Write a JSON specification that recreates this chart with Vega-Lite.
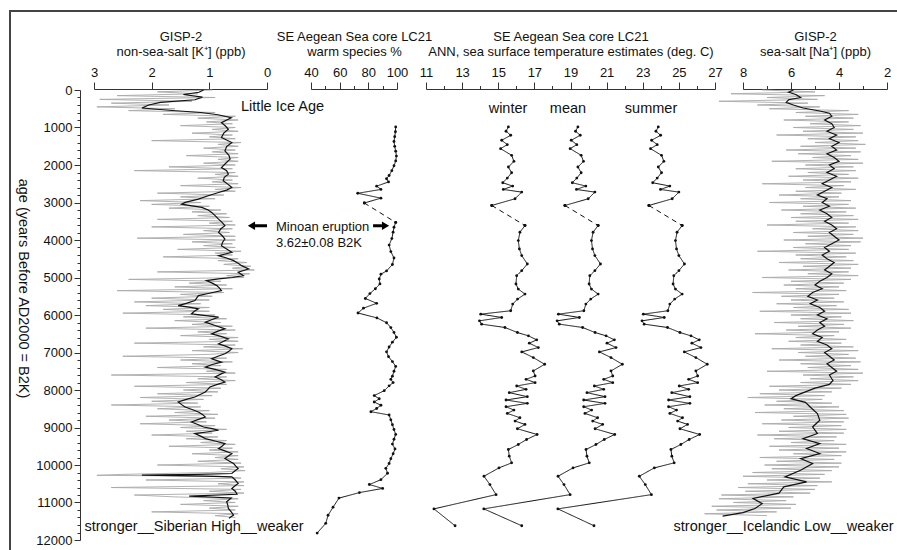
{
"$schema": "https://vega.github.io/schema/vega-lite/v6.json",
"width": 887, "height": 539,
"autosize": "none",
"padding": {"left": 10, "top": 11, "right": 0, "bottom": 0},
"config": {
 "view": {"stroke": "#444", "strokeWidth": 2, "strokeDash": [887, 1426, 539]},
 "font": "Liberation Sans",
 "axis": {"labelFont": "Liberation Sans", "titleFont": "Liberation Sans", "labelFontSize": 13, "titleFontSize": 13, "titleFontWeight": "normal", "labelColor": "#111", "titleColor": "#111", "domainColor": "#333", "tickColor": "#333", "grid": false, "labelFlush": false, "labelOverlap": false, "labelBound": false},
 "text": {"font": "Liberation Sans", "color": "#111"}
},
"datasets": {
 "kraw": [{"a":0,"v":0.95},{"a":50,"v":1.9},{"a":100,"v":1.2},{"a":150,"v":2.6},{"a":200,"v":0.9},{"a":250,"v":2.9},{"a":300,"v":1.3},{"a":350,"v":2.7},{"a":400,"v":1.7},{"a":450,"v":2.95},{"a":500,"v":1.6},{"a":550,"v":2.4},{"a":600,"v":0.9},{"a":650,"v":1.8},{"a":700,"v":0.55},{"a":750,"v":1.2},{"a":800,"v":0.5},{"a":850,"v":1.05},{"a":900,"v":0.6},{"a":950,"v":1.5},{"a":1000,"v":0.55},{"a":1050,"v":0.95},{"a":1100,"v":0.5},{"a":1150,"v":1.3},{"a":1200,"v":0.6},{"a":1250,"v":1.0},{"a":1300,"v":0.55},{"a":1350,"v":2.0},{"a":1400,"v":0.45},{"a":1450,"v":0.85},{"a":1500,"v":0.5},{"a":1550,"v":1.1},{"a":1600,"v":0.55},{"a":1650,"v":0.95},{"a":1700,"v":0.5},{"a":1750,"v":1.4},{"a":1800,"v":0.5},{"a":1850,"v":0.85},{"a":1900,"v":0.5},{"a":1950,"v":1.1},{"a":2000,"v":0.55},{"a":2050,"v":1.7},{"a":2100,"v":0.6},{"a":2150,"v":2.3},{"a":2200,"v":0.55},{"a":2250,"v":0.9},{"a":2300,"v":0.5},{"a":2350,"v":1.2},{"a":2400,"v":0.6},{"a":2450,"v":0.95},{"a":2500,"v":0.5},{"a":2550,"v":1.5},{"a":2600,"v":0.45},{"a":2650,"v":0.9},{"a":2700,"v":0.55},{"a":2750,"v":1.9},{"a":2800,"v":0.75},{"a":2850,"v":1.5},{"a":2900,"v":0.9},{"a":2950,"v":2.2},{"a":3000,"v":1.15},{"a":3050,"v":2.0},{"a":3100,"v":1.0},{"a":3150,"v":1.7},{"a":3200,"v":0.8},{"a":3250,"v":1.3},{"a":3300,"v":0.7},{"a":3350,"v":1.2},{"a":3400,"v":0.65},{"a":3450,"v":1.9},{"a":3500,"v":0.6},{"a":3550,"v":1.0},{"a":3600,"v":0.55},{"a":3650,"v":2.0},{"a":3700,"v":0.6},{"a":3750,"v":1.1},{"a":3800,"v":0.65},{"a":3850,"v":1.45},{"a":3900,"v":0.55},{"a":3950,"v":2.25},{"a":4000,"v":0.55},{"a":4050,"v":1.3},{"a":4100,"v":0.6},{"a":4150,"v":1.1},{"a":4200,"v":0.55},{"a":4250,"v":1.55},{"a":4300,"v":0.45},{"a":4350,"v":0.9},{"a":4400,"v":0.6},{"a":4450,"v":1.8},{"a":4500,"v":0.5},{"a":4550,"v":0.85},{"a":4600,"v":0.35},{"a":4650,"v":0.75},{"a":4700,"v":0.28},{"a":4750,"v":0.6},{"a":4800,"v":0.22},{"a":4850,"v":1.9},{"a":4900,"v":0.3},{"a":4950,"v":0.7},{"a":5000,"v":0.4},{"a":5050,"v":2.4},{"a":5100,"v":0.8},{"a":5150,"v":1.35},{"a":5200,"v":0.7},{"a":5250,"v":1.6},{"a":5300,"v":0.6},{"a":5350,"v":2.6},{"a":5400,"v":0.75},{"a":5450,"v":1.5},{"a":5500,"v":0.95},{"a":5550,"v":2.0},{"a":5600,"v":1.0},{"a":5650,"v":2.3},{"a":5700,"v":1.15},{"a":5750,"v":2.1},{"a":5800,"v":1.0},{"a":5850,"v":1.8},{"a":5900,"v":1.0},{"a":5950,"v":2.5},{"a":6000,"v":0.9},{"a":6050,"v":1.45},{"a":6100,"v":0.7},{"a":6150,"v":1.6},{"a":6200,"v":0.8},{"a":6250,"v":1.3},{"a":6300,"v":0.6},{"a":6350,"v":2.1},{"a":6400,"v":0.55},{"a":6450,"v":1.2},{"a":6500,"v":0.7},{"a":6550,"v":1.5},{"a":6600,"v":0.5},{"a":6650,"v":1.0},{"a":6700,"v":0.5},{"a":6750,"v":2.3},{"a":6800,"v":0.55},{"a":6850,"v":1.1},{"a":6900,"v":0.42},{"a":6950,"v":1.3},{"a":7000,"v":0.5},{"a":7050,"v":1.0},{"a":7100,"v":2.5},{"a":7150,"v":0.7},{"a":7200,"v":1.5},{"a":7250,"v":0.6},{"a":7300,"v":1.3},{"a":7350,"v":0.8},{"a":7400,"v":1.9},{"a":7450,"v":0.7},{"a":7500,"v":1.05},{"a":7550,"v":0.55},{"a":7600,"v":2.7},{"a":7650,"v":0.7},{"a":7700,"v":1.2},{"a":7750,"v":0.55},{"a":7800,"v":1.4},{"a":7850,"v":0.7},{"a":7900,"v":2.3},{"a":7950,"v":0.8},{"a":8000,"v":1.45},{"a":8050,"v":0.85},{"a":8100,"v":1.9},{"a":8150,"v":0.95},{"a":8200,"v":2.2},{"a":8250,"v":1.1},{"a":8300,"v":2.0},{"a":8350,"v":1.2},{"a":8400,"v":2.7},{"a":8450,"v":1.15},{"a":8500,"v":1.9},{"a":8550,"v":1.0},{"a":8600,"v":1.6},{"a":8650,"v":0.85},{"a":8700,"v":2.1},{"a":8750,"v":0.9},{"a":8800,"v":1.7},{"a":8850,"v":1.05},{"a":8900,"v":2.2},{"a":8950,"v":0.9},{"a":9000,"v":1.5},{"a":9050,"v":0.7},{"a":9100,"v":1.4},{"a":9150,"v":0.95},{"a":9200,"v":2.0},{"a":9250,"v":0.85},{"a":9300,"v":1.4},{"a":9350,"v":0.7},{"a":9400,"v":1.15},{"a":9450,"v":0.55},{"a":9500,"v":1.7},{"a":9550,"v":0.6},{"a":9600,"v":1.0},{"a":9650,"v":0.5},{"a":9700,"v":1.3},{"a":9750,"v":0.5},{"a":9800,"v":0.9},{"a":9850,"v":0.5},{"a":9900,"v":1.2},{"a":9950,"v":0.45},{"a":10000,"v":1.9},{"a":10050,"v":0.4},{"a":10100,"v":0.8},{"a":10150,"v":0.38},{"a":10200,"v":1.0},{"a":10250,"v":2.5},{"a":10275,"v":2.95},{"a":10300,"v":0.85},{"a":10350,"v":0.45},{"a":10400,"v":2.1},{"a":10450,"v":0.4},{"a":10500,"v":0.85},{"a":10550,"v":0.4},{"a":10600,"v":2.7},{"a":10650,"v":0.45},{"a":10700,"v":1.0},{"a":10750,"v":0.4},{"a":10800,"v":2.3},{"a":10850,"v":1.6},{"a":10900,"v":0.5},{"a":10950,"v":1.1},{"a":11000,"v":0.55},{"a":11050,"v":1.5},{"a":11100,"v":0.5},{"a":11150,"v":1.0},{"a":11200,"v":0.55},{"a":11250,"v":2.0},{"a":11300,"v":0.5},{"a":11350,"v":0.9},{"a":11400,"v":0.55}],
 "ksm": [{"a":0,"v":1.1},{"a":60,"v":1.18},{"a":120,"v":1.45},{"a":190,"v":1.12},{"a":260,"v":1.25},{"a":330,"v":1.85},{"a":400,"v":2.05},{"a":480,"v":2.17},{"a":540,"v":1.7},{"a":600,"v":1.15},{"a":660,"v":0.85},{"a":740,"v":0.62},{"a":870,"v":0.79},{"a":960,"v":0.72},{"a":1047,"v":0.67},{"a":1150,"v":0.75},{"a":1268,"v":0.79},{"a":1402,"v":0.61},{"a":1510,"v":0.7},{"a":1623,"v":0.73},{"a":1740,"v":0.66},{"a":1845,"v":0.64},{"a":1960,"v":0.72},{"a":2067,"v":0.79},{"a":2150,"v":0.7},{"a":2244,"v":0.67},{"a":2330,"v":0.74},{"a":2421,"v":0.76},{"a":2510,"v":0.68},{"a":2599,"v":0.61},{"a":2670,"v":0.7},{"a":2732,"v":0.84},{"a":2821,"v":1.02},{"a":2910,"v":1.19},{"a":2998,"v":1.42},{"a":3043,"v":1.48},{"a":3090,"v":1.3},{"a":3131,"v":1.13},{"a":3200,"v":1.02},{"a":3264,"v":0.96},{"a":3350,"v":0.9},{"a":3442,"v":0.84},{"a":3530,"v":0.78},{"a":3619,"v":0.73},{"a":3700,"v":0.8},{"a":3797,"v":0.84},{"a":3880,"v":0.78},{"a":3974,"v":0.73},{"a":4060,"v":0.77},{"a":4152,"v":0.79},{"a":4240,"v":0.7},{"a":4329,"v":0.61},{"a":4418,"v":0.84},{"a":4480,"v":0.7},{"a":4551,"v":0.58},{"a":4620,"v":0.5},{"a":4684,"v":0.44},{"a":4772,"v":0.32},{"a":4861,"v":0.5},{"a":4950,"v":0.41},{"a":5000,"v":0.6},{"a":5038,"v":0.84},{"a":5083,"v":1.05},{"a":5150,"v":0.95},{"a":5216,"v":0.87},{"a":5290,"v":0.82},{"a":5349,"v":0.79},{"a":5420,"v":1.0},{"a":5482,"v":1.19},{"a":5550,"v":1.22},{"a":5615,"v":1.25},{"a":5690,"v":1.4},{"a":5748,"v":1.54},{"a":5790,"v":1.35},{"a":5837,"v":1.19},{"a":5900,"v":1.26},{"a":5970,"v":1.31},{"a":6010,"v":1.1},{"a":6058,"v":0.84},{"a":6120,"v":0.95},{"a":6191,"v":1.07},{"a":6280,"v":0.9},{"a":6369,"v":0.73},{"a":6430,"v":0.85},{"a":6502,"v":0.96},{"a":6570,"v":0.8},{"a":6635,"v":0.67},{"a":6700,"v":0.75},{"a":6768,"v":0.84},{"a":6830,"v":0.72},{"a":6901,"v":0.61},{"a":6970,"v":0.66},{"a":7034,"v":0.73},{"a":7100,"v":0.85},{"a":7167,"v":0.96},{"a":7210,"v":0.88},{"a":7256,"v":0.79},{"a":7320,"v":0.95},{"a":7389,"v":1.07},{"a":7450,"v":0.9},{"a":7522,"v":0.73},{"a":7590,"v":0.82},{"a":7655,"v":0.9},{"a":7720,"v":0.8},{"a":7788,"v":0.73},{"a":7850,"v":0.86},{"a":7921,"v":0.99},{"a":7990,"v":1.03},{"a":8054,"v":1.07},{"a":8120,"v":1.16},{"a":8187,"v":1.25},{"a":8250,"v":1.4},{"a":8320,"v":1.54},{"a":8390,"v":1.48},{"a":8453,"v":1.42},{"a":8520,"v":1.3},{"a":8586,"v":1.19},{"a":8650,"v":1.12},{"a":8719,"v":1.07},{"a":8790,"v":1.2},{"a":8853,"v":1.31},{"a":8920,"v":1.2},{"a":8986,"v":1.1},{"a":9030,"v":0.95},{"a":9074,"v":0.84},{"a":9120,"v":1.05},{"a":9163,"v":1.25},{"a":9230,"v":1.15},{"a":9296,"v":1.07},{"a":9360,"v":0.9},{"a":9429,"v":0.73},{"a":9500,"v":0.78},{"a":9562,"v":0.84},{"a":9630,"v":0.72},{"a":9695,"v":0.61},{"a":9760,"v":0.67},{"a":9828,"v":0.73},{"a":9900,"v":0.65},{"a":9961,"v":0.58},{"a":10030,"v":0.54},{"a":10094,"v":0.5},{"a":10160,"v":0.56},{"a":10227,"v":0.61},{"a":10250,"v":1.2},{"a":10272,"v":2.17},{"a":10295,"v":1.1},{"a":10316,"v":0.61},{"a":10400,"v":0.55},{"a":10493,"v":0.5},{"a":10560,"v":0.56},{"a":10626,"v":0.61},{"a":10700,"v":0.55},{"a":10780,"v":0.52},{"a":10830,"v":1.35},{"a":10880,"v":0.62},{"a":10981,"v":0.7},{"a":11070,"v":0.68},{"a":11159,"v":0.67},{"a":11250,"v":0.62},{"a":11336,"v":0.58},{"a":11420,"v":0.66}],
 "naraw": [{"a":0,"v":7.2},{"a":50,"v":5.0},{"a":100,"v":8.5},{"a":150,"v":4.6},{"a":200,"v":7.0},{"a":250,"v":4.9},{"a":300,"v":9.0},{"a":350,"v":5.3},{"a":400,"v":7.4},{"a":450,"v":4.8},{"a":500,"v":6.9},{"a":550,"v":3.6},{"a":600,"v":5.8},{"a":650,"v":3.2},{"a":700,"v":5.4},{"a":750,"v":3.4},{"a":800,"v":6.3},{"a":850,"v":3.6},{"a":900,"v":5.2},{"a":950,"v":3.1},{"a":1000,"v":5.9},{"a":1050,"v":3.4},{"a":1100,"v":5.5},{"a":1150,"v":3.0},{"a":1200,"v":6.6},{"a":1250,"v":3.3},{"a":1300,"v":5.3},{"a":1350,"v":3.2},{"a":1400,"v":5.0},{"a":1450,"v":2.9},{"a":1500,"v":5.6},{"a":1550,"v":3.3},{"a":1600,"v":6.2},{"a":1650,"v":3.1},{"a":1700,"v":5.7},{"a":1750,"v":3.5},{"a":1800,"v":5.1},{"a":1850,"v":3.2},{"a":1900,"v":6.8},{"a":1950,"v":3.0},{"a":2000,"v":5.4},{"a":2050,"v":3.4},{"a":2100,"v":5.8},{"a":2150,"v":3.3},{"a":2200,"v":5.3},{"a":2250,"v":3.6},{"a":2300,"v":6.1},{"a":2350,"v":3.2},{"a":2400,"v":5.5},{"a":2450,"v":3.5},{"a":2500,"v":7.2},{"a":2550,"v":3.8},{"a":2600,"v":5.4},{"a":2650,"v":3.3},{"a":2700,"v":5.8},{"a":2750,"v":3.9},{"a":2800,"v":6.5},{"a":2850,"v":4.0},{"a":2900,"v":5.6},{"a":2950,"v":3.5},{"a":3000,"v":6.9},{"a":3050,"v":3.6},{"a":3100,"v":5.5},{"a":3150,"v":3.3},{"a":3200,"v":6.4},{"a":3250,"v":3.7},{"a":3300,"v":5.6},{"a":3350,"v":3.4},{"a":3400,"v":6.0},{"a":3450,"v":3.2},{"a":3500,"v":5.8},{"a":3550,"v":3.6},{"a":3600,"v":7.0},{"a":3650,"v":3.3},{"a":3700,"v":5.1},{"a":3750,"v":3.2},{"a":3800,"v":5.9},{"a":3850,"v":3.4},{"a":3900,"v":5.3},{"a":3950,"v":3.0},{"a":4000,"v":6.3},{"a":4050,"v":3.1},{"a":4100,"v":5.4},{"a":4150,"v":3.5},{"a":4200,"v":5.9},{"a":4250,"v":3.6},{"a":4300,"v":7.4},{"a":4350,"v":3.3},{"a":4400,"v":5.8},{"a":4450,"v":3.7},{"a":4500,"v":5.6},{"a":4550,"v":3.4},{"a":4600,"v":6.5},{"a":4650,"v":3.2},{"a":4700,"v":5.5},{"a":4750,"v":3.5},{"a":4800,"v":6.1},{"a":4850,"v":3.6},{"a":4900,"v":5.3},{"a":4950,"v":3.2},{"a":5000,"v":7.2},{"a":5050,"v":3.5},{"a":5100,"v":6.0},{"a":5150,"v":3.8},{"a":5200,"v":6.3},{"a":5250,"v":4.0},{"a":5300,"v":5.8},{"a":5350,"v":3.7},{"a":5400,"v":7.6},{"a":5450,"v":4.0},{"a":5500,"v":6.4},{"a":5550,"v":4.2},{"a":5600,"v":6.0},{"a":5650,"v":3.8},{"a":5700,"v":6.6},{"a":5750,"v":4.1},{"a":5800,"v":5.9},{"a":5850,"v":3.6},{"a":5900,"v":7.3},{"a":5950,"v":3.5},{"a":6000,"v":6.0},{"a":6050,"v":3.9},{"a":6100,"v":5.6},{"a":6150,"v":3.4},{"a":6200,"v":6.7},{"a":6250,"v":3.8},{"a":6300,"v":5.7},{"a":6350,"v":3.5},{"a":6400,"v":6.2},{"a":6450,"v":4.0},{"a":6500,"v":7.5},{"a":6550,"v":4.2},{"a":6600,"v":5.8},{"a":6650,"v":3.7},{"a":6700,"v":6.1},{"a":6750,"v":3.9},{"a":6800,"v":5.6},{"a":6850,"v":3.4},{"a":6900,"v":6.8},{"a":6950,"v":3.2},{"a":7000,"v":5.7},{"a":7050,"v":3.6},{"a":7100,"v":5.4},{"a":7150,"v":3.3},{"a":7200,"v":6.5},{"a":7250,"v":3.1},{"a":7300,"v":5.6},{"a":7350,"v":3.5},{"a":7400,"v":5.3},{"a":7450,"v":3.2},{"a":7500,"v":7.0},{"a":7550,"v":3.0},{"a":7600,"v":5.5},{"a":7650,"v":3.4},{"a":7700,"v":5.2},{"a":7750,"v":3.2},{"a":7800,"v":5.6},{"a":7850,"v":3.5},{"a":7900,"v":6.9},{"a":7950,"v":3.9},{"a":8000,"v":6.5},{"a":8050,"v":4.3},{"a":8100,"v":7.3},{"a":8150,"v":4.6},{"a":8200,"v":7.8},{"a":8250,"v":4.7},{"a":8300,"v":6.6},{"a":8350,"v":4.3},{"a":8400,"v":7.1},{"a":8450,"v":4.0},{"a":8500,"v":6.3},{"a":8550,"v":3.8},{"a":8600,"v":7.5},{"a":8650,"v":3.7},{"a":8700,"v":5.9},{"a":8750,"v":3.6},{"a":8800,"v":6.4},{"a":8850,"v":3.8},{"a":8900,"v":7.2},{"a":8950,"v":3.9},{"a":9000,"v":6.1},{"a":9050,"v":3.7},{"a":9100,"v":6.5},{"a":9150,"v":3.8},{"a":9200,"v":7.4},{"a":9250,"v":4.1},{"a":9300,"v":6.7},{"a":9350,"v":4.2},{"a":9400,"v":6.0},{"a":9450,"v":3.7},{"a":9500,"v":6.9},{"a":9550,"v":4.0},{"a":9600,"v":6.5},{"a":9650,"v":3.7},{"a":9700,"v":5.9},{"a":9750,"v":3.9},{"a":9800,"v":7.3},{"a":9850,"v":4.2},{"a":9900,"v":6.6},{"a":9950,"v":3.9},{"a":10000,"v":7.1},{"a":10050,"v":4.0},{"a":10100,"v":6.8},{"a":10150,"v":4.3},{"a":10200,"v":7.6},{"a":10250,"v":4.6},{"a":10300,"v":8.0},{"a":10350,"v":4.8},{"a":10400,"v":7.0},{"a":10450,"v":4.3},{"a":10500,"v":7.8},{"a":10550,"v":4.9},{"a":10600,"v":8.2},{"a":10650,"v":5.0},{"a":10700,"v":7.9},{"a":10750,"v":5.2},{"a":10800,"v":8.9},{"a":10850,"v":5.9},{"a":10900,"v":9.0},{"a":10950,"v":6.2},{"a":11000,"v":8.4},{"a":11050,"v":5.8},{"a":11100,"v":9.3},{"a":11150,"v":6.0},{"a":11200,"v":9.1},{"a":11250,"v":6.6},{"a":11300,"v":9.6},{"a":11350,"v":7.0}],
 "nasm": [{"a":0,"v":5.9},{"a":60,"v":6.1},{"a":120,"v":5.8},{"a":200,"v":5.6},{"a":260,"v":6.1},{"a":330,"v":6.2},{"a":400,"v":5.9},{"a":480,"v":5.5},{"a":560,"v":4.8},{"a":620,"v":4.4},{"a":700,"v":4.3},{"a":800,"v":4.6},{"a":900,"v":4.3},{"a":1000,"v":4.2},{"a":1100,"v":4.5},{"a":1200,"v":4.1},{"a":1300,"v":4.4},{"a":1400,"v":4.0},{"a":1500,"v":4.3},{"a":1600,"v":4.1},{"a":1700,"v":4.5},{"a":1800,"v":4.2},{"a":1900,"v":4.0},{"a":2000,"v":4.4},{"a":2100,"v":4.2},{"a":2200,"v":4.5},{"a":2300,"v":4.1},{"a":2400,"v":4.4},{"a":2500,"v":4.7},{"a":2600,"v":4.3},{"a":2700,"v":4.6},{"a":2800,"v":4.9},{"a":2900,"v":4.5},{"a":3000,"v":4.7},{"a":3100,"v":4.4},{"a":3200,"v":4.8},{"a":3300,"v":4.5},{"a":3400,"v":4.3},{"a":3500,"v":4.6},{"a":3600,"v":4.3},{"a":3700,"v":4.1},{"a":3800,"v":4.4},{"a":3900,"v":4.2},{"a":4000,"v":4.0},{"a":4100,"v":4.3},{"a":4200,"v":4.6},{"a":4300,"v":4.4},{"a":4400,"v":4.7},{"a":4500,"v":4.5},{"a":4600,"v":4.2},{"a":4700,"v":4.4},{"a":4800,"v":4.6},{"a":4900,"v":4.3},{"a":5000,"v":4.5},{"a":5100,"v":4.8},{"a":5200,"v":5.0},{"a":5300,"v":4.7},{"a":5400,"v":5.1},{"a":5500,"v":5.3},{"a":5600,"v":4.9},{"a":5700,"v":5.2},{"a":5800,"v":4.8},{"a":5900,"v":4.6},{"a":6000,"v":4.9},{"a":6100,"v":4.5},{"a":6200,"v":4.8},{"a":6300,"v":4.6},{"a":6400,"v":4.9},{"a":6500,"v":5.1},{"a":6600,"v":4.7},{"a":6700,"v":4.9},{"a":6800,"v":4.5},{"a":6900,"v":4.3},{"a":7000,"v":4.6},{"a":7100,"v":4.4},{"a":7200,"v":4.2},{"a":7300,"v":4.5},{"a":7400,"v":4.3},{"a":7500,"v":4.1},{"a":7600,"v":4.4},{"a":7700,"v":4.3},{"a":7743,"v":4.25},{"a":7850,"v":4.4},{"a":7950,"v":5.0},{"a":8050,"v":5.4},{"a":8150,"v":5.8},{"a":8231,"v":6.0},{"a":8330,"v":5.4},{"a":8453,"v":5.2},{"a":8630,"v":4.9},{"a":8807,"v":4.8},{"a":8985,"v":5.1},{"a":9162,"v":4.9},{"a":9300,"v":5.5},{"a":9429,"v":4.8},{"a":9560,"v":5.35},{"a":9695,"v":4.8},{"a":9830,"v":5.6},{"a":9961,"v":5.1},{"a":10140,"v":5.6},{"a":10316,"v":6.25},{"a":10450,"v":5.35},{"a":10582,"v":6.3},{"a":10750,"v":6.5},{"a":10893,"v":7.58},{"a":11030,"v":7.2},{"a":11159,"v":7.5},{"a":11270,"v":8.0},{"a":11363,"v":8.85}],
 "warm": [{"a":985,"v":99.1,"g":"1"},{"a":1114,"v":98.9,"g":"1"},{"a":1244,"v":98.4,"g":"1"},{"a":1373,"v":97.9,"g":"1"},{"a":1503,"v":98.4,"g":"1"},{"a":1632,"v":99.1,"g":"1"},{"a":1762,"v":99.6,"g":"1"},{"a":1891,"v":99.1,"g":"1"},{"a":2021,"v":97.9,"g":"1"},{"a":2150,"v":96.4,"g":"1"},{"a":2280,"v":94.5,"g":"1"},{"a":2366,"v":92.7,"g":"1"},{"a":2452,"v":94.1,"g":"1"},{"a":2564,"v":85.8,"g":"1"},{"a":2651,"v":88.8,"g":"1"},{"a":2754,"v":72.6,"g":"1"},{"a":2884,"v":88.8,"g":"1"},{"a":3013,"v":77.2,"g":"1"},{"a":3013,"v":77.2,"g":"x"},{"a":3531,"v":99.1,"g":"x"},{"a":3531,"v":99.1,"g":"2"},{"a":3660,"v":97.9,"g":"2"},{"a":3790,"v":97.3,"g":"2"},{"a":3962,"v":96.4,"g":"2"},{"a":4135,"v":94.5,"g":"2"},{"a":4308,"v":95.7,"g":"2"},{"a":4480,"v":97.9,"g":"2"},{"a":4653,"v":96.8,"g":"2"},{"a":4825,"v":92.7,"g":"2"},{"a":4912,"v":88.8,"g":"2"},{"a":5041,"v":87.6,"g":"2"},{"a":5170,"v":88.1,"g":"2"},{"a":5300,"v":84.9,"g":"2"},{"a":5429,"v":81.1,"g":"2"},{"a":5559,"v":77.9,"g":"2"},{"a":5688,"v":85.8,"g":"2"},{"a":5818,"v":76.6,"g":"2"},{"a":5947,"v":72.8,"g":"2"},{"a":6077,"v":86.0,"g":"2"},{"a":6206,"v":92.7,"g":"2"},{"a":6336,"v":95.7,"g":"2"},{"a":6465,"v":97.9,"g":"2"},{"a":6594,"v":99.6,"g":"2"},{"a":6724,"v":96.8,"g":"2"},{"a":6853,"v":94.5,"g":"2"},{"a":6983,"v":92.7,"g":"2"},{"a":7112,"v":94.1,"g":"2"},{"a":7242,"v":96.8,"g":"2"},{"a":7371,"v":99.1,"g":"2"},{"a":7501,"v":97.9,"g":"2"},{"a":7630,"v":96.8,"g":"2"},{"a":7716,"v":95.7,"g":"2"},{"a":7803,"v":97.3,"g":"2"},{"a":7889,"v":94.5,"g":"2"},{"a":8018,"v":91.1,"g":"2"},{"a":8148,"v":84.1,"g":"2"},{"a":8234,"v":87.6,"g":"2"},{"a":8320,"v":84.1,"g":"2"},{"a":8407,"v":88.8,"g":"2"},{"a":8493,"v":85.8,"g":"2"},{"a":8579,"v":81.8,"g":"2"},{"a":8666,"v":94.5,"g":"2"},{"a":8795,"v":95.7,"g":"2"},{"a":8925,"v":96.8,"g":"2"},{"a":9054,"v":97.9,"g":"2"},{"a":9184,"v":99.1,"g":"2"},{"a":9313,"v":97.9,"g":"2"},{"a":9442,"v":96.8,"g":"2"},{"a":9572,"v":98.6,"g":"2"},{"a":9701,"v":97.3,"g":"2"},{"a":9830,"v":95.7,"g":"2"},{"a":9960,"v":94.5,"g":"2"},{"a":10089,"v":92.2,"g":"2"},{"a":10219,"v":93.4,"g":"2"},{"a":10391,"v":88.8,"g":"2"},{"a":10521,"v":80.7,"g":"2"},{"a":10625,"v":90.0,"g":"2"},{"a":10736,"v":73.8,"g":"2"},{"a":10883,"v":59.5,"g":"2"},{"a":11125,"v":55.4,"g":"2"},{"a":11341,"v":51.9,"g":"2"},{"a":11556,"v":50.3,"g":"2"},{"a":11815,"v":44.3,"g":"2"}],
 "sst": [{"a":985,"w":15.56,"m":19.41,"s":23.86,"g":"1"},{"a":1101,"w":15.43,"m":19.28,"s":23.73,"g":"1"},{"a":1207,"w":15.69,"m":19.54,"s":23.99,"g":"1"},{"a":1341,"w":15.19,"m":19.04,"s":23.49,"g":"1"},{"a":1457,"w":15.5,"m":19.35,"s":23.8,"g":"1"},{"a":1564,"w":15.13,"m":18.98,"s":23.43,"g":"1"},{"a":1742,"w":15.74,"m":19.59,"s":24.04,"g":"1"},{"a":1903,"w":15.87,"m":19.72,"s":24.17,"g":"1"},{"a":2054,"w":15.56,"m":19.41,"s":23.86,"g":"1"},{"a":2206,"w":15.74,"m":19.59,"s":24.04,"g":"1"},{"a":2349,"w":15.5,"m":19.35,"s":23.8,"g":"1"},{"a":2473,"w":15.25,"m":19.1,"s":23.55,"g":"1"},{"a":2562,"w":15.8,"m":19.85,"s":24.5,"g":"1"},{"a":2652,"w":15.28,"m":19.33,"s":23.98,"g":"1"},{"a":2723,"w":16.3,"m":20.35,"s":25.0,"g":"1"},{"a":2901,"w":15.93,"m":19.98,"s":24.63,"g":"1"},{"a":3079,"w":14.64,"m":18.69,"s":23.34,"g":"1"},{"a":3079,"w":14.64,"m":18.69,"s":23.34,"g":"x"},{"a":3614,"w":16.48,"m":20.53,"s":25.18,"g":"x"},{"a":3614,"w":16.48,"m":20.53,"s":25.18,"g":"2"},{"a":3793,"w":16.2,"m":20.25,"s":24.9,"g":"2"},{"a":4015,"w":16.11,"m":20.16,"s":24.81,"g":"2"},{"a":4238,"w":16.17,"m":20.22,"s":24.87,"g":"2"},{"a":4416,"w":16.3,"m":20.35,"s":25.0,"g":"2"},{"a":4639,"w":16.61,"m":20.66,"s":25.31,"g":"2"},{"a":4818,"w":16.3,"m":20.35,"s":25.0,"g":"2"},{"a":4951,"w":16.02,"m":20.07,"s":24.72,"g":"2"},{"a":5174,"w":15.98,"m":20.03,"s":24.68,"g":"2"},{"a":5308,"w":16.11,"m":20.16,"s":24.81,"g":"2"},{"a":5442,"w":16.48,"m":20.53,"s":25.18,"g":"2"},{"a":5575,"w":16.07,"m":20.12,"s":24.77,"g":"2"},{"a":5709,"w":15.8,"m":19.85,"s":24.5,"g":"2"},{"a":5887,"w":15.69,"m":19.74,"s":24.39,"g":"2"},{"a":5977,"w":14.03,"m":18.33,"s":23.03,"g":"2"},{"a":6066,"w":15.19,"m":19.49,"s":24.19,"g":"2"},{"a":6155,"w":13.96,"m":18.26,"s":22.96,"g":"2"},{"a":6244,"w":14.08,"m":18.38,"s":23.08,"g":"2"},{"a":6333,"w":15.37,"m":19.67,"s":24.37,"g":"2"},{"a":6467,"w":16.06,"m":20.36,"s":25.06,"g":"2"},{"a":6556,"w":16.67,"m":20.97,"s":25.67,"g":"2"},{"a":6663,"w":17.13,"m":21.43,"s":26.13,"g":"2"},{"a":6752,"w":16.72,"m":21.02,"s":25.72,"g":"2"},{"a":6868,"w":17.22,"m":21.52,"s":26.22,"g":"2"},{"a":6984,"w":16.3,"m":20.6,"s":25.3,"g":"2"},{"a":7135,"w":16.94,"m":21.24,"s":25.94,"g":"2"},{"a":7314,"w":17.57,"m":21.87,"s":26.57,"g":"2"},{"a":7492,"w":16.94,"m":21.24,"s":25.94,"g":"2"},{"a":7626,"w":17.04,"m":21.34,"s":26.04,"g":"2"},{"a":7715,"w":16.54,"m":20.84,"s":25.54,"g":"2"},{"a":7804,"w":17.04,"m":21.34,"s":26.04,"g":"2"},{"a":7893,"w":16.02,"m":20.32,"s":25.02,"g":"2"},{"a":7982,"w":16.54,"m":20.84,"s":25.54,"g":"2"},{"a":8071,"w":15.61,"m":19.91,"s":24.61,"g":"2"},{"a":8178,"w":16.61,"m":20.91,"s":25.61,"g":"2"},{"a":8267,"w":15.43,"m":19.73,"s":24.43,"g":"2"},{"a":8356,"w":16.61,"m":20.91,"s":25.61,"g":"2"},{"a":8446,"w":15.43,"m":19.73,"s":24.43,"g":"2"},{"a":8535,"w":15.87,"m":20.17,"s":24.87,"g":"2"},{"a":8624,"w":15.5,"m":19.8,"s":24.5,"g":"2"},{"a":8740,"w":16.2,"m":20.5,"s":25.2,"g":"2"},{"a":8829,"w":15.93,"m":20.23,"s":24.93,"g":"2"},{"a":8918,"w":16.48,"m":20.78,"s":25.48,"g":"2"},{"a":9034,"w":16.06,"m":20.36,"s":25.06,"g":"2"},{"a":9186,"w":17.15,"m":21.45,"s":26.15,"g":"2"},{"a":9319,"w":16.57,"m":20.87,"s":25.57,"g":"2"},{"a":9453,"w":16.11,"m":20.41,"s":25.11,"g":"2"},{"a":9587,"w":15.56,"m":19.86,"s":24.56,"g":"2"},{"a":9765,"w":15.61,"m":19.91,"s":24.61,"g":"2"},{"a":9943,"w":15.74,"m":20.04,"s":24.74,"g":"2"},{"a":10077,"w":15.04,"m":19.14,"s":23.64,"g":"2"},{"a":10300,"w":14.21,"m":18.31,"s":22.81,"g":"2"},{"a":10523,"w":14.54,"m":18.64,"s":23.14,"g":"2"},{"a":10790,"w":14.88,"m":18.98,"s":23.48,"g":"2"},{"a":11170,"w":11.44,"m":14.2,"s":18.3,"g":"2"},{"a":11620,"w":12.61,"m":16.3,"s":20.3,"g":"2"}]
},
"encoding": {
 "y": {"field": "a", "type": "quantitative",
  "scale": {"domain": [0, 12000], "range": [79, 529], "nice": false, "zero": false},
  "axis": {"orient": "left", "offset": -70, "format": "d",
   "values": [0,200,400,600,800,1000,1200,1400,1600,1800,2000,2200,2400,2600,2800,3000,3200,3400,3600,3800,4000,4200,4400,4600,4800,5000,5200,5400,5600,5800,6000,6200,6400,6600,6800,7000,7200,7400,7600,7800,8000,8200,8400,8600,8800,9000,9200,9400,9600,9800,10000,10200,10400,10600,10800,11000,11200,11400,11600,11800,12000],
   "labelExpr": "datum.value % 1000 === 0 ? datum.label : ''",
   "tickSize": {"condition": {"test": "datum.value % 1000 === 0", "value": 6}, "value": 3},
   "labelPadding": 2, "title": "age (years Before AD2000 = B2K)", "titleFontSize": 14.5, "titleAngle": 90, "titleAlign": "center", "titleBaseline": "middle", "titleX": -58, "titleY": 277}}
},
"layer": [
 {"data": {"name": "kraw"}, "mark": {"type": "line", "color": "#a9a9a9", "strokeWidth": 0.9},
  "encoding": {"x": {"field": "v", "type": "quantitative", "scale": {"domain": [0, 3], "range": [257, 84], "nice": false, "zero": false},
    "axis": {"orient": "top", "offset": -78, "values": [0,0.5,1,1.5,2,2.5,3], "format": "d", "labelExpr": "datum.value % 1 === 0 ? datum.label : ''", "tickSize": {"condition": {"test": "datum.value % 1 === 0", "value": 7}, "value": 3.5}, "labelPadding": 3, "title": ["GISP-2", "non-sea-salt [K⁺] (ppb)"], "titlePadding": 8, "titleLineHeight": 15}},
   "order": {"field": "a"}}},
 {"data": {"name": "ksm"}, "mark": {"type": "line", "color": "#111", "strokeWidth": 1.2},
  "encoding": {"x": {"field": "v", "type": "quantitative", "scale": {"domain": [0, 3], "range": [257, 84], "nice": false, "zero": false}, "axis": null},
   "order": {"field": "a"}}},
 {"data": {"name": "warm"}, "mark": {"type": "line", "color": "#111", "strokeWidth": 1, "point": {"filled": true, "size": 8, "color": "#111"}},
  "encoding": {"x": {"field": "v", "type": "quantitative", "scale": {"domain": [40, 100], "range": [301, 387], "nice": false, "zero": false},
    "axis": {"orient": "top", "offset": -78, "values": [40,50,60,70,80,90,100], "labelExpr": "datum.value % 20 === 0 ? datum.label : ''", "tickSize": {"condition": {"test": "datum.value % 20 === 0", "value": 7}, "value": 3.5}, "labelPadding": 3, "title": ["SE Aegean Sea core LC21", "warm species %"], "titlePadding": 8, "titleLineHeight": 15}},
   "strokeDash": {"field": "g", "type": "nominal", "scale": {"domain": ["1", "x", "2"], "range": [[1, 0], [5, 4], [1, 0]]}, "legend": null},
   "order": {"field": "a"}}},
 {"data": {"name": "sst"}, "mark": {"type": "line", "color": "#111", "strokeWidth": 1, "point": {"filled": true, "size": 8, "color": "#111"}},
  "encoding": {"x": {"field": "w", "type": "quantitative", "scale": {"domain": [11, 27], "range": [416, 705], "nice": false, "zero": false},
    "axis": {"orient": "top", "offset": -78, "values": [11,12,13,14,15,16,17,18,19,20,21,22,23,24,25,26,27], "labelExpr": "datum.value % 2 === 1 ? datum.label : ''", "tickSize": {"condition": {"test": "datum.value % 2 === 1", "value": 7}, "value": 3.5}, "labelPadding": 3, "title": ["SE Aegean Sea core LC21", "ANN, sea surface temperature estimates (deg. C)"], "titlePadding": 8, "titleLineHeight": 15}},
   "strokeDash": {"field": "g", "type": "nominal", "scale": {"domain": ["1", "x", "2"], "range": [[1, 0], [5, 4], [1, 0]]}, "legend": null},
   "order": {"field": "a"}}},
 {"data": {"name": "sst"}, "mark": {"type": "line", "color": "#111", "strokeWidth": 1, "point": {"filled": true, "size": 8, "color": "#111"}},
  "encoding": {"x": {"field": "m", "type": "quantitative", "scale": {"domain": [11, 27], "range": [416, 705], "nice": false, "zero": false}, "axis": null},
   "strokeDash": {"field": "g", "type": "nominal", "scale": {"domain": ["1", "x", "2"], "range": [[1, 0], [5, 4], [1, 0]]}, "legend": null},
   "order": {"field": "a"}}},
 {"data": {"name": "sst"}, "mark": {"type": "line", "color": "#111", "strokeWidth": 1, "point": {"filled": true, "size": 8, "color": "#111"}},
  "encoding": {"x": {"field": "s", "type": "quantitative", "scale": {"domain": [11, 27], "range": [416, 705], "nice": false, "zero": false}, "axis": null},
   "strokeDash": {"field": "g", "type": "nominal", "scale": {"domain": ["1", "x", "2"], "range": [[1, 0], [5, 4], [1, 0]]}, "legend": null},
   "order": {"field": "a"}}},
 {"data": {"name": "naraw"}, "mark": {"type": "line", "color": "#a9a9a9", "strokeWidth": 0.9},
  "encoding": {"x": {"field": "v", "type": "quantitative", "scale": {"domain": [2, 8], "range": [877, 733], "nice": false, "zero": false},
    "axis": {"orient": "top", "offset": -78, "values": [2,3,4,5,6,7,8], "labelExpr": "datum.value % 2 === 0 ? datum.label : ''", "tickSize": {"condition": {"test": "datum.value % 2 === 0", "value": 7}, "value": 3.5}, "labelPadding": 3, "title": ["GISP-2", "sea-salt [Na⁺] (ppb)"], "titlePadding": 8, "titleLineHeight": 15}},
   "order": {"field": "a"}}},
 {"data": {"name": "nasm"}, "mark": {"type": "line", "color": "#111", "strokeWidth": 1.2},
  "encoding": {"x": {"field": "v", "type": "quantitative", "scale": {"domain": [2, 8], "range": [877, 733], "nice": false, "zero": false}, "axis": null},
   "order": {"field": "a"}}},
 {"data": {"values": [{"a": 452, "v": 0.45, "t": "Little Ice Age"}]},
  "mark": {"type": "text", "fontSize": 14.5, "baseline": "middle", "align": "left"},
  "encoding": {"x": {"field": "v", "type": "quantitative", "scale": {"domain": [0, 3], "range": [257, 84], "nice": false, "zero": false}, "axis": null},
   "text": {"field": "t"}}},
 {"data": {"values": [{"a": 11650, "v": 1.265, "t": "stronger__Siberian High__weaker"}]},
  "mark": {"type": "text", "fontSize": 14.5, "baseline": "middle", "align": "center"},
  "encoding": {"x": {"field": "v", "type": "quantitative", "scale": {"domain": [0, 3], "range": [257, 84], "nice": false, "zero": false}, "axis": null},
   "text": {"field": "t"}}},
 {"data": {"values": [{"a": 3620, "v": 0.0, "v2": 0.22}]},
  "mark": {"type": "rule", "color": "#000", "strokeWidth": 3},
  "encoding": {"x": {"field": "v", "type": "quantitative", "scale": {"domain": [0, 3], "range": [257, 84], "nice": false, "zero": false}, "axis": null},
   "x2": {"field": "v2"}}},
 {"data": {"values": [{"a": 3620, "v": 0.27}]},
  "mark": {"type": "point", "shape": "triangle-left", "filled": true, "color": "#000", "size": 70, "opacity": 1},
  "encoding": {"x": {"field": "v", "type": "quantitative", "scale": {"domain": [0, 3], "range": [257, 84], "nice": false, "zero": false}, "axis": null}}},
 {"data": {"values": [{"a": 3620, "v": 83.3, "v2": 89.5}]},
  "mark": {"type": "rule", "color": "#000", "strokeWidth": 3},
  "encoding": {"x": {"field": "v", "type": "quantitative", "scale": {"domain": [40, 100], "range": [301, 387], "nice": false, "zero": false}, "axis": null},
   "x2": {"field": "v2"}}},
 {"data": {"values": [{"a": 3620, "v": 92.0}]},
  "mark": {"type": "point", "shape": "triangle-right", "filled": true, "color": "#000", "size": 70, "opacity": 1},
  "encoding": {"x": {"field": "v", "type": "quantitative", "scale": {"domain": [40, 100], "range": [301, 387], "nice": false, "zero": false}, "axis": null}}},
 {"data": {"values": [{"a": 3640, "v": 15.6}]},
  "mark": {"type": "text", "fontSize": 13, "baseline": "middle", "align": "left", "lineHeight": 16, "text": ["Minoan eruption", "3.62±0.08 B2K"]},
  "encoding": {"x": {"field": "v", "type": "quantitative", "scale": {"domain": [40, 100], "range": [301, 387], "nice": false, "zero": false}, "axis": null}}},
 {"data": {"values": [{"a": 505, "v": 15.54, "t": "winter"}, {"a": 505, "v": 18.86, "t": "mean"}, {"a": 505, "v": 23.46, "t": "summer"}]},
  "mark": {"type": "text", "fontSize": 14.5, "baseline": "middle", "align": "center"},
  "encoding": {"x": {"field": "v", "type": "quantitative", "scale": {"domain": [11, 27], "range": [416, 705], "nice": false, "zero": false}, "axis": null},
   "text": {"field": "t"}}},
 {"data": {"values": [{"a": 11650, "v": 6.31, "t": "stronger__Icelandic Low__weaker"}]},
  "mark": {"type": "text", "fontSize": 14.5, "baseline": "middle", "align": "center"},
  "encoding": {"x": {"field": "v", "type": "quantitative", "scale": {"domain": [2, 8], "range": [877, 733], "nice": false, "zero": false}, "axis": null},
   "text": {"field": "t"}}}
],
"resolve": {"scale": {"x": "independent"}, "axis": {"x": "independent"}}
}
